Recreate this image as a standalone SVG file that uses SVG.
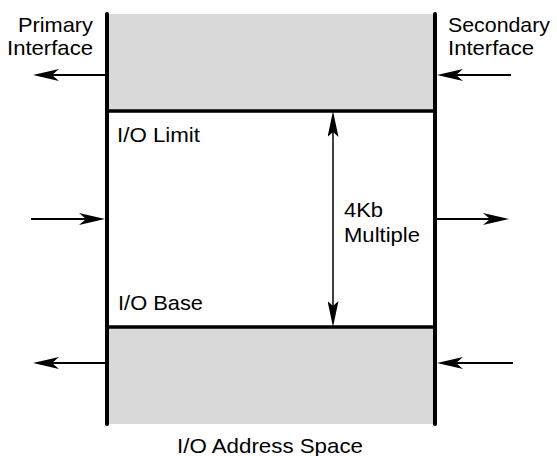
<svg xmlns="http://www.w3.org/2000/svg" width="557" height="456" viewBox="0 0 557 456">
<style>
.fill{fill:#d9d9d9;stroke:none}
.wall{stroke:#000;stroke-width:4;stroke-linecap:round;fill:none}
.edge{stroke:#000;stroke-width:3.5;fill:none}
.shaft{stroke:#000;stroke-width:2;fill:none}
.dim{stroke:#000;stroke-width:1.5;fill:none}
text{font-family:"Liberation Sans",Arial,Helvetica,sans-serif;font-size:21px;fill:#000}
</style>
<defs>
<marker id="ah" viewBox="0 0 26 12" markerWidth="26" markerHeight="12" refX="7" refY="6" orient="auto" markerUnits="userSpaceOnUse">
<path d="M0,0 L26,6 L0,12 L7,6 z" fill="#000"/>
</marker>
<marker id="ahd" viewBox="0 0 26 11" markerWidth="26" markerHeight="11" refX="5" refY="5.5" orient="auto-start-reverse" markerUnits="userSpaceOnUse">
<path d="M0,0 L26,5.5 L0,11 L5,5.5 z" fill="#000"/>
</marker>
</defs>
<g id="upper-region">
<rect class="fill" x="107" y="14" width="328" height="97"/>
</g>
<g id="lower-region">
<rect class="fill" x="107" y="327" width="328" height="97"/>
</g>
<g id="window">
<line class="edge" x1="107" y1="111" x2="435" y2="111"/>
<line class="edge" x1="107" y1="327" x2="435" y2="327"/>
<text x="117" y="142" textLength="83" lengthAdjust="spacingAndGlyphs">I/O Limit</text>
<text x="118" y="310" textLength="85" lengthAdjust="spacingAndGlyphs">I/O Base</text>
<text x="344" y="217" textLength="39" lengthAdjust="spacingAndGlyphs">4Kb</text>
<text x="344" y="242" textLength="76" lengthAdjust="spacingAndGlyphs">Multiple</text>
</g>
<g id="primary-interface">
<line class="wall" x1="107" y1="14" x2="107" y2="424"/>
<text x="18" y="32" textLength="75" lengthAdjust="spacingAndGlyphs">Primary</text>
<text x="7" y="55" textLength="86" lengthAdjust="spacingAndGlyphs">Interface</text>
</g>
<g id="secondary-interface">
<line class="wall" x1="435" y1="14" x2="435" y2="424"/>
<text x="448" y="32" textLength="102" lengthAdjust="spacingAndGlyphs">Secondary</text>
<text x="448" y="55" textLength="86" lengthAdjust="spacingAndGlyphs">Interface</text>
</g>
<g id="address-space-label">
<text x="177" y="453" textLength="186" lengthAdjust="spacingAndGlyphs">I/O Address Space</text>
</g>
<g id="connectors">
<line class="shaft" x1="105" y1="75" x2="52" y2="75" marker-end="url(#ah)"/>
<line class="shaft" x1="511" y1="75" x2="456" y2="75" marker-end="url(#ah)"/>
<line class="shaft" x1="31" y1="219" x2="86" y2="219" marker-end="url(#ah)"/>
<line class="shaft" x1="437" y1="219" x2="490" y2="219" marker-end="url(#ah)"/>
<line class="shaft" x1="105" y1="363" x2="52" y2="363" marker-end="url(#ah)"/>
<line class="shaft" x1="513" y1="363" x2="456" y2="363" marker-end="url(#ah)"/>
<line class="dim" x1="333" y1="132" x2="333" y2="306" marker-start="url(#ahd)" marker-end="url(#ahd)"/>
</g>
</svg>
